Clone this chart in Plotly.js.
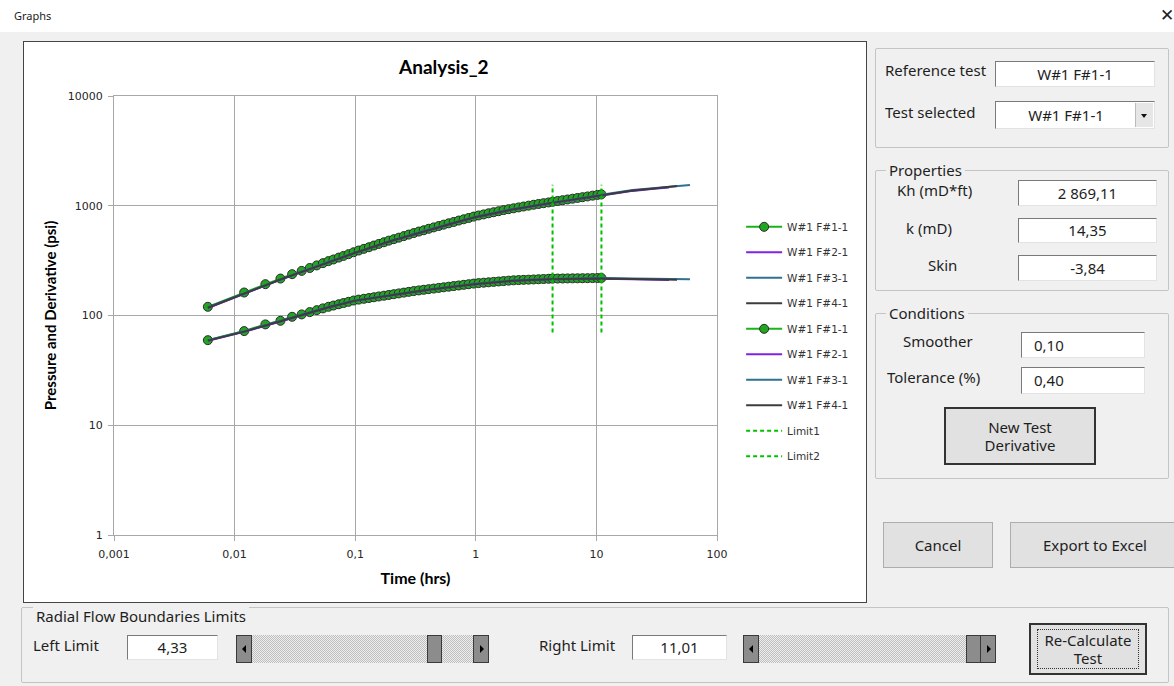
<!DOCTYPE html>
<html>
<head>
<meta charset="utf-8">
<script src="https://cdn.plot.ly/plotly-3.0.1.min.js"></script>
<style>
  html, body { margin:0; padding:0; width:1174px; height:686px; overflow:hidden; background:#f0f0f0; font-family:"Noto Sans", sans-serif; color:#1e1e1e; }
  .abs { position:absolute; }
  #titlebar { left:0; top:0; width:1174px; height:32px; background:#ffffff; z-index:5; }
  #titlebar .t { position:absolute; left:14px; top:8px; font-size:11px; color:#222; }
  #titlebar .x { position:absolute; left:1160px; top:5px; font-size:17px; line-height:20px; color:#222; font-family:"DejaVu Sans", sans-serif; }
  #chartframe { left:23px; top:41px; width:842px; height:560px; border:1px solid #444; background:#fff; }
  #chart { position:absolute; left:0; top:0; width:842px; height:560px; }
  .group { position:absolute; border:1px solid #c4c4c4; border-radius:2px; }
  .glabel { position:absolute; background:#f0f0f0; padding:0 3px; font-size:15px; line-height:18px; }
  .lbl { position:absolute; font-size:15px; line-height:18px; white-space:nowrap; }
  .box { position:absolute; background:#fff; border:1px solid #7a7a7a; border-right-color:#e3e3e3; border-bottom-color:#e3e3e3; box-sizing:border-box; font-size:15px; text-align:center; white-space:nowrap; }
  .btn { position:absolute; background:#e1e1e1; border:1px solid #adadad; box-sizing:border-box; font-size:15px; text-align:center; line-height:18px; display:flex; align-items:center; justify-content:center; }
  .btn.dark { border:2px solid #333; }
  .sb { position:absolute; height:28px; box-sizing:border-box; background:repeating-conic-gradient(#bdbdbd 0 25%, #efefef 0 50%) 0 0/2px 2px; }
  .sbb { position:absolute; top:0; width:16px; height:28px; box-sizing:border-box; background:#8c8c8c; border:1px solid #3a3a3a; }
  .arrow { position:absolute; top:9px; width:0; height:0; border-top:4px solid transparent; border-bottom:4px solid transparent; }
</style>
</head>
<body>
<div id="titlebar" class="abs"><span class="t">Graphs</span><span class="x">✕</span></div>

<div id="chartframe" class="abs"><div id="chart"></div></div>

<!-- Reference / selected -->
<div class="group" style="left:875px; top:48px; width:292px; height:98px;"></div>
<div class="lbl" style="left:885px; top:61px;">Reference test</div>
<div class="box" style="left:995px; top:61px; width:160px; height:26px; line-height:24px;">W#1 F#1-1</div>
<div class="lbl" style="left:885px; top:103px;">Test selected</div>
<div class="box" style="left:995px; top:101px; width:160px; height:28px; line-height:26px; padding-right:18px;">W#1 F#1-1
  <div style="position:absolute; right:1px; top:1px; width:17px; height:24px; background:#e6e6e6; border-left:1px solid #bbb;">
    <div style="position:absolute; left:5px; top:11px; border-left:3.5px solid transparent; border-right:3.5px solid transparent; border-top:4px solid #111;"></div>
  </div>
</div>

<!-- Properties -->
<div class="group" style="left:875px; top:170px; width:292px; height:119px;"></div>
<div class="glabel" style="left:886px; top:161px;">Properties</div>
<div class="lbl" style="left:897px; top:181px;">Kh (mD*ft)</div>
<div class="box" style="left:1018px; top:180px; width:139px; height:26px; line-height:24px;">2 869,11</div>
<div class="lbl" style="left:906px; top:219px;">k (mD)</div>
<div class="box" style="left:1018px; top:218px; width:139px; height:25px; line-height:23px;">14,35</div>
<div class="lbl" style="left:928px; top:256px;">Skin</div>
<div class="box" style="left:1018px; top:255px; width:139px; height:26px; line-height:24px;">-3,84</div>

<!-- Conditions -->
<div class="group" style="left:875px; top:313px; width:292px; height:164px;"></div>
<div class="glabel" style="left:886px; top:304px;">Conditions</div>
<div class="lbl" style="left:903px; top:332px;">Smoother</div>
<div class="box" style="left:1021px; top:332px; width:124px; height:26px; line-height:24px; text-align:left; padding-left:12px;">0,10</div>
<div class="lbl" style="left:887px; top:368px;">Tolerance (%)</div>
<div class="box" style="left:1021px; top:367px; width:124px; height:27px; line-height:25px; text-align:left; padding-left:12px;">0,40</div>
<div class="btn dark" style="left:944px; top:407px; width:152px; height:58px;">New Test<br>Derivative</div>

<div class="btn" style="left:883px; top:522px; width:110px; height:46px;">Cancel</div>
<div class="btn" style="left:1010px; top:522px; width:170px; height:46px;">Export to Excel</div>

<!-- Bottom limits -->
<div class="group" style="left:21px; top:607px; width:1146px; height:74px;"></div>
<div class="glabel" style="left:33px; top:607px;">Radial Flow Boundaries Limits</div>
<div class="lbl" style="left:33px; top:636px;">Left Limit</div>
<div class="box" style="left:127px; top:635px; width:91px; height:25px; line-height:23px;">4,33</div>
<div class="sb" style="left:236px; top:635px; width:253px;">
  <div class="sbb" style="left:0;"><div class="arrow" style="left:5px; border-right:4px solid #000;"></div></div>
  <div class="sbb" style="left:191px; width:15px;"></div>
  <div class="sbb" style="left:237px;"><div class="arrow" style="left:6px; border-left:4px solid #000;"></div></div>
</div>
<div class="lbl" style="left:539px; top:636px;">Right Limit</div>
<div class="box" style="left:632px; top:635px; width:95px; height:25px; line-height:23px;">11,01</div>
<div class="sb" style="left:743px; top:635px; width:253px;">
  <div class="sbb" style="left:0;"><div class="arrow" style="left:5px; border-right:4px solid #000;"></div></div>
  <div class="sbb" style="left:223px; width:15px;"></div>
  <div class="sbb" style="left:237px;"><div class="arrow" style="left:6px; border-left:4px solid #000;"></div></div>
</div>
<div class="btn dark" style="left:1029px; top:623px; width:118px; height:52px;"><div style="border:1px dotted #333; padding:1px 6px;">Re-Calculate<br>Test</div></div>

<script>
// ---------- Data ----------
const timeF1 = [0.006,0.012,0.018,0.024,0.030,0.036,0.042,0.048,0.054,0.060,0.066,0.073,0.080,0.088,0.097,0.107,0.118,0.130,0.143,0.157,0.173,0.190,0.209,0.230,0.253,0.278,0.306,0.337,0.370,0.407,0.448,0.493,0.542,0.596,0.656,0.722,0.794,0.873,0.960,1.056,1.162,1.278,1.406,1.546,1.701,1.871,2.058,2.264,2.490,2.739,3.013,3.315,3.646,4.011,4.33,4.77,5.25,5.77,6.35,6.98,7.68,8.45,9.30,10.2,11.01];
const pressF1 = [120,162,193,217,238,255,271,286,300,313,324,337,349,362,377,391,405,419,434,449,465,481,496,512,529,546,564,582,598,617,635,654,673,692,712,733,753,774,796,816,834,854,873,892,913,931,948,966,984,1002,1021,1038,1055,1072,1086,1105,1123,1141,1160,1178,1197,1216,1236,1255,1270];
const derivF1 = [59.6,72.1,83.0,89.5,97.3,102.3,107.4,111.9,116.1,120.0,123.2,126.6,129.9,133.3,136.9,139.6,142.0,144.3,146.7,149.1,151.5,153.9,156.4,159.0,161.6,164.2,167.0,169.3,171.5,173.8,176.0,178.4,180.7,183.0,185.4,187.8,190.3,192.8,195.3,197.3,199.0,200.7,202.4,204.2,205.9,207.7,209.2,210.2,211.2,212.1,213.1,214.0,215.0,216.0,216.8,217.1,217.4,217.7,218.0,218.3,218.6,218.9,219.2,219.5,219.8];

const timeF2  = [0.006,0.012,0.024,0.036,0.06,0.1,0.2,0.4,0.7,1,2,4,7,11,20,30,40];
const pressF2 = [117,158,212,249,305,371,477,598,708,786,920,1045,1150,1238,1366,1428,1470];
const derivF2 = [58.7,70.9,88.2,100.5,118.2,135.9,152.7,170.4,184.2,193.1,205.9,212.8,214.7,216.7,213.7,211.8,211.0];

const timeF3  = [0.006,0.012,0.024,0.036,0.06,0.1,0.2,0.4,0.7,1,2,4,7,11,20,30,46.6,59.7];
const pressF3 = [119,160,215,252,310,377,484,607,719,798,935,1061,1167,1257,1390,1450,1515,1545];
const derivF3 = [59.6,72.0,89.5,102.0,120.0,138.0,155.0,173.0,187.0,196.0,209.0,216.0,218.0,220.0,217.0,215.0,214.0,214.0];

const timeF4  = [0.006,0.012,0.024,0.036,0.06,0.1,0.2,0.4,0.7,1,2,4,7,11,20,30,46.6];
const pressF4 = [117.6,159,213,250,307,373,479,601,711,790,925,1051,1155,1245,1374,1437,1512];
const derivF4 = [59.0,71.3,88.6,101.0,118.8,136.6,153.5,171.3,185.1,194.0,206.9,213.8,215.8,217.8,214.8,212.9,212.0];

const limit1X = [4.33, 4.33];
const limit2X = [11.01, 11.01];
const limitY  = [70, 1550];

const xTickVals = [0.001,0.01,0.1,1,10,100];
const xTickText = ['0,001','0,01','0,1','1','10','100'];
const yTickVals = [1,10,100,1000,10000];
const yTickText = ['1','10','100','1000','10000'];

const seriesNames = ['W#1 F#1-1','W#1 F#2-1','W#1 F#3-1','W#1 F#4-1'];

// ---------- Styles ----------
const cGreen = '#19b419';
const cPurple = '#7f22e6';
const cSteel = '#2f7193';
const cDark = '#3c3c3c';

function markerTrace(x, y, name, g) {
  return {x:x, y:y, name:name, legendgroup:g, type:'scatter', mode:'lines+markers',
    line:{color:cGreen, width:2},
    marker:{color:'#22a622', size:9, line:{color:'#2b2b2b', width:1}}};
}
function lineTrace(x, y, name, color, g) {
  return {x:x, y:y, name:name, legendgroup:g, type:'scatter', mode:'lines',
    line:{color:color, width:2}};
}

const traces = [
  markerTrace(timeF1, pressF1, seriesNames[0], 'a1'),
  lineTrace(timeF2, pressF2, seriesNames[1], cPurple, 'a2'),
  lineTrace(timeF3, pressF3, seriesNames[2], cSteel, 'a3'),
  lineTrace(timeF4, pressF4, seriesNames[3], cDark, 'a4'),
  markerTrace(timeF1, derivF1, seriesNames[0], 'b1'),
  lineTrace(timeF2, derivF2, seriesNames[1], cPurple, 'b2'),
  lineTrace(timeF3, derivF3, seriesNames[2], cSteel, 'b3'),
  lineTrace(timeF4, derivF4, seriesNames[3], cDark, 'b4'),
  {x:limit1X, y:limitY, name:'Limit1', legendgroup:'c1', type:'scatter', mode:'lines', line:{color:'#00c000', width:2, dash:'4px,3px'}},
  {x:limit2X, y:limitY, name:'Limit2', legendgroup:'c2', type:'scatter', mode:'lines', line:{color:'#00c000', width:2, dash:'4px,3px'}}
];

const axisFont = {family:'DejaVu Sans, sans-serif', size:11, color:'#262626'};

const layout = {
  width:842, height:560,
  margin:{l:90, r:149, t:54, b:67},
  paper_bgcolor:'#ffffff', plot_bgcolor:'#ffffff',
  showlegend:true,
  title:{text:'<b>Analysis_2</b>', x:0.547, xanchor:'center', xref:'paper', y:0.955, yanchor:'middle',
         font:{family:'Lato, sans-serif', size:19, color:'#000'}},
  xaxis:{type:'log', range:[-3, 2], tickvals:xTickVals, ticktext:xTickText,
    showgrid:true, gridcolor:'#a8a8a8', gridwidth:1, showline:true, linecolor:'#a8a8a8', linewidth:1, mirror:true,
    ticks:'outside', ticklen:5, tickcolor:'#a8a8a8', tickfont:axisFont, zeroline:false, ticklabelstandoff:4,
    title:{text:'<b>Time (hrs)</b>', font:{family:'Lato, sans-serif', size:16, color:'#000'}, standoff:12}},
  yaxis:{type:'log', range:[0, 4], tickvals:yTickVals, ticktext:yTickText,
    showgrid:true, gridcolor:'#a8a8a8', gridwidth:1, showline:true, linecolor:'#a8a8a8', linewidth:1, mirror:true,
    ticks:'outside', ticklen:5, tickcolor:'#a8a8a8', tickfont:axisFont, zeroline:false, ticklabelstandoff:3,
    title:{text:'<b>Pressure and Derivative (psi)</b>', font:{family:'Lato, sans-serif', size:15, color:'#000'}, standoff:7}},
  legend:{x:1.04, xanchor:'left', y:0.735, yanchor:'top', bgcolor:'rgba(0,0,0,0)', borderwidth:0,
    font:{family:'DejaVu Sans, sans-serif', size:10.5, color:'#333'}, tracegroupgap:6.5, itemwidth:36},
  hovermode:false
};

Plotly.newPlot('chart', traces, layout, {displayModeBar:false, staticPlot:true});
</script>
</body>
</html>
